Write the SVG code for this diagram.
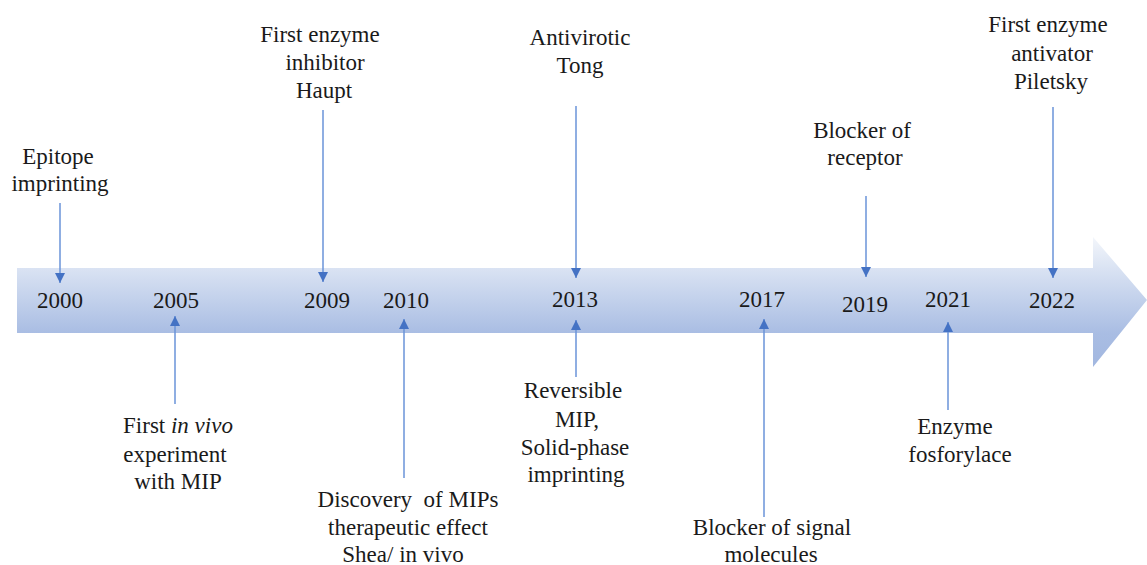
<svg xmlns="http://www.w3.org/2000/svg" width="1147" height="565" viewBox="0 0 1147 565">
<defs>
<linearGradient id="barGrad" gradientUnits="userSpaceOnUse" x1="0" y1="237" x2="0" y2="367">
<stop offset="0" stop-color="#f3f6fb"/>
<stop offset="0.24" stop-color="#dae3f3"/>
<stop offset="0.74" stop-color="#a9bde3"/>
<stop offset="1" stop-color="#a2b7e0"/>
</linearGradient>
<marker id="ah" viewBox="0 0 10 10" refX="10" refY="5" markerWidth="10" markerHeight="10" markerUnits="userSpaceOnUse" orient="auto">
<path d="M0,0 L10,5 L0,10 Z" fill="#4472c4"/>
</marker>
<style>
text{font-family:'Liberation Serif','DejaVu Serif',serif;font-size:23px;fill:#1a1a1a;text-anchor:middle}
.c{stroke:#6a93d8;stroke-width:1.5;fill:none;marker-end:url(#ah)}
</style>
</defs>
<path id="timeline" d="M17,268 L1093,268 L1093,237 L1147,300 L1093,367 L1093,333 L17,333 Z" fill="url(#barGrad)"/>
<g id="connectors">
<line class="c" x1="60" y1="203" x2="60" y2="283"/>
<line class="c" x1="323" y1="110" x2="323" y2="282"/>
<line class="c" x1="576" y1="106" x2="576" y2="278"/>
<line class="c" x1="866" y1="196" x2="866" y2="277"/>
<line class="c" x1="1053" y1="107" x2="1053" y2="278"/>
<line class="c" x1="175" y1="404" x2="175" y2="316"/>
<line class="c" x1="404" y1="478" x2="404" y2="319"/>
<line class="c" x1="576" y1="377" x2="576" y2="320"/>
<line class="c" x1="764" y1="517" x2="764" y2="319"/>
<line class="c" x1="948" y1="410" x2="948" y2="322"/>
</g>
<g id="y2000" font-family="Liberation Serif"><text x="60" y="308">2000</text><text x="58" y="164">Epitope</text><text x="60" y="191">imprinting</text></g>
<g id="y2005"><text x="176" y="308">2005</text><text x="178" y="433">First <tspan font-style="italic">in vivo</tspan></text><text x="175" y="462">experiment</text><text x="178" y="489">with MIP</text></g>
<g id="y2009"><text x="327" y="308">2009</text><text x="320" y="42">First enzyme</text><text x="325" y="70">inhibitor</text><text x="324" y="98">Haupt</text></g>
<g id="y2010"><text x="406" y="308">2010</text><text x="408" y="507" xml:space="preserve">Discovery  of MIPs</text><text x="408" y="535">therapeutic effect</text><text x="403" y="562">Shea/ in vivo</text></g>
<g id="y2013"><text x="575" y="307">2013</text><text x="580" y="45">Antivirotic</text><text x="580" y="73">Tong</text><text x="573" y="398">Reversible</text><text x="577" y="427">MIP,</text><text x="575" y="455">Solid-phase</text><text x="576" y="482">imprinting</text></g>
<g id="y2017"><text x="762" y="307">2017</text><text x="772" y="535">Blocker of signal</text><text x="771" y="562">molecules</text></g>
<g id="y2019"><text x="865" y="312">2019</text><text x="862" y="138">Blocker of</text><text x="865" y="165">receptor</text></g>
<g id="y2021"><text x="948" y="307">2021</text><text x="955" y="434">Enzyme</text><text x="960" y="462">fosforylace</text></g>
<g id="y2022"><text x="1052" y="308">2022</text><text x="1048" y="32">First enzyme</text><text x="1052" y="61">antivator</text><text x="1051" y="89">Piletsky</text></g>
</svg>
